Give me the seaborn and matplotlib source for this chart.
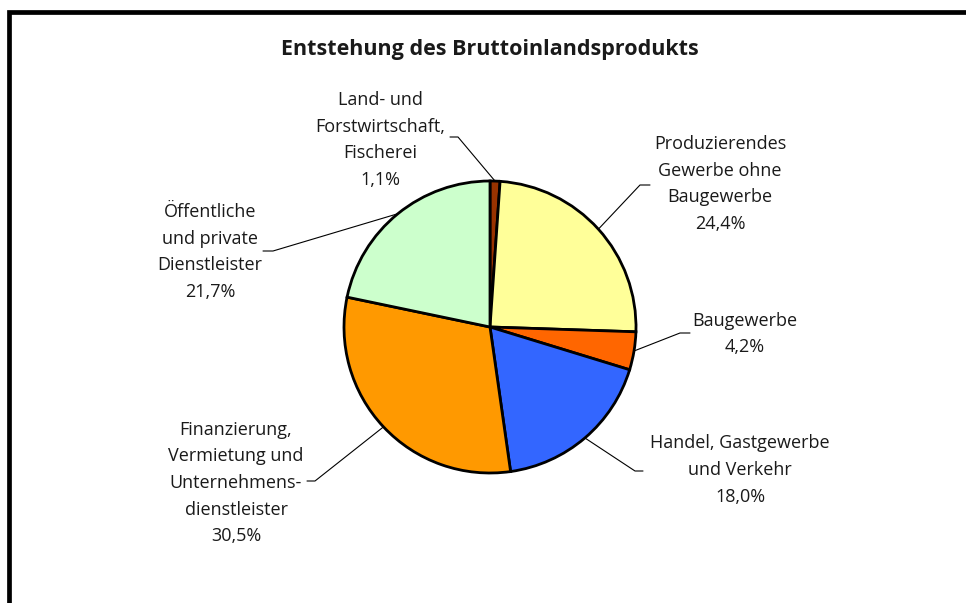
import numpy as np
import matplotlib.pyplot as plt
import seaborn as sns

# Anteile am Bruttoinlandsprodukt (in %), im Uhrzeigersinn ab 12 Uhr
sectors = [
    "Land- und\nForstwirtschaft,\nFischerei",
    "Produzierendes\nGewerbe ohne\nBaugewerbe",
    "Baugewerbe",
    "Handel, Gastgewerbe\nund Verkehr",
    "Finanzierung,\nVermietung und\nUnternehmens-\ndienstleister",
    "Öffentliche\nund private\nDienstleister",
]
shares = [1.1, 24.4, 4.2, 18.0, 30.5, 21.7]
colors = ["#993300", "#FFFF99", "#FF6600", "#3366FF", "#FF9900", "#CCFFCC"]

# layout in pixel coords (y from top): label centre, leader elbow, stub end
label_pos = [(380, 140), (720, 184), (745, 334), (740, 470), (236, 483), (210, 252)]
elbow_pos = [(458, 137), (640, 185), (680, 333), (635, 471), (315, 481), (273, 251)]
stub_pos = [(450, 137), (650, 185), (690, 333), (643, 471), (307, 481), (263, 251)]

W, H = 966, 603
sns.set_theme(style="white")
plt.rcParams['font.family'] = ['Open Sans', 'DejaVu Sans']

fig = plt.figure(figsize=(W / 100, H / 100), dpi=100)
fig.patch.set_facecolor("white")
ax = fig.add_axes([0, 0, 1, 1])

cx, cy, r = 490, 327, 146

# y axis points down, so counterclock=True with start at -90 runs clockwise from 12 o'clock
wedges, _ = ax.pie(shares, colors=colors, startangle=-90, counterclock=True,
                   radius=r, center=(cx, cy),
                   wedgeprops=dict(edgecolor="black", linewidth=2))
ax.set_xlim(0, W)
ax.set_ylim(H, 0)
ax.set_aspect("equal")
ax.axis("off")

for i, w in enumerate(wedges):
    mid = np.deg2rad((w.theta1 + w.theta2) / 2)
    px = cx + r * np.cos(mid)
    py = cy + r * np.sin(mid)
    ex, ey = elbow_pos[i]
    sx, sy = stub_pos[i]
    ax.plot([px, ex, sx], [py, ey, sy], color="black", lw=0.8, zorder=0.5)
    lbl = sectors[i] + "\n" + f"{shares[i]:.1f}%".replace(".", ",")
    ax.text(label_pos[i][0], label_pos[i][1], lbl, ha="center", va="center",
            fontsize=13, linespacing=1.62, color="#1a1a1a")

ax.text(490, 50, "Entstehung des Bruttoinlandsprodukts", ha="center", va="center",
        fontsize=15.5, fontweight="bold", color="#1a1a1a")

# outer frame (only left and top visible)
ax.plot([9, 9, W + 10], [H + 10, 12, 12], color="black", lw=3.4,
        solid_joinstyle="miter", clip_on=False)

fig.savefig("out.png", dpi=100, facecolor="white")
